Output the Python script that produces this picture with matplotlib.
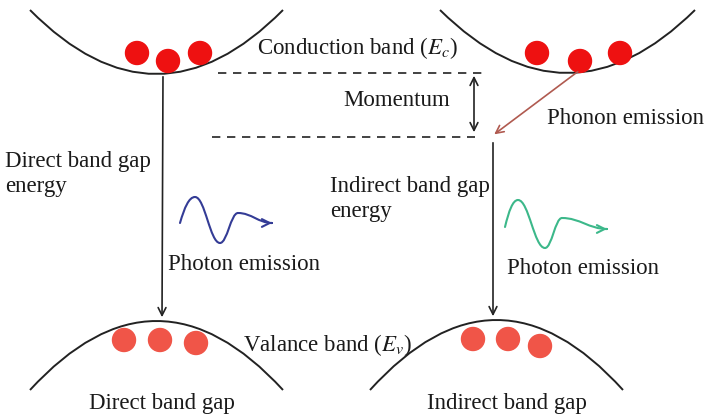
import matplotlib.pyplot as plt
from matplotlib.path import Path
from matplotlib.patches import PathPatch, Circle

plt.rcParams['font.family'] = ['Liberation Serif', 'DejaVu Serif']
plt.rcParams['mathtext.fontset'] = 'stix'

# band curves: (x_left, x_right, y_ends, y_vertex) in image pixels
conduction_bands = [(30, 283, 10, 74), (440, 695, 10, 73)]
valence_bands = [(30, 283, 390, 321), (370, 623, 390, 320)]

# electrons / holes
cb_electrons = [(137, 53), (168, 61), (200, 53), (537, 53), (580, 61), (620, 53)]
vb_electrons = [(124, 340), (160, 340), (196, 343), (473, 339), (508, 339), (540, 346)]

# photon waves: start, extremes, end
blue_wave = [(180, 223), (195, 197), (220, 243), (238, 213), (272, 223)]
green_wave = [(505, 227), (518, 200), (545, 248), (562, 218), (607, 229)]

fig = plt.figure(figsize=(7.05, 4.17), dpi=100)
ax = fig.add_axes([0, 0, 1, 1])
ax.set_xlim(0, 705)
ax.set_ylim(417, 0)
ax.axis('off')


def band(x0, x1, yend, yv):
    xc = (x0 + x1) / 2
    yc = 2 * yv - yend
    p = Path([(x0, yend), (xc, yc), (x1, yend)], [Path.MOVETO, Path.CURVE3, Path.CURVE3])
    ax.add_patch(PathPatch(p, fill=False, lw=1.4, color='#222222'))


def wave(pts, color):
    verts = [pts[0]]
    codes = [Path.MOVETO]
    for i in range(len(pts) - 1):
        (x0, y0), (x1, y1) = pts[i], pts[i + 1]
        dx = x1 - x0
        if i == 0:
            c1 = (x0 + 0.3 * dx, y0 + 0.6 * (y1 - y0))
        else:
            c1 = (x0 + 0.4 * dx, y0)
        c2 = (x1 - 0.4 * dx, y1)
        verts += [c1, c2, (x1, y1)]
        codes += [Path.CURVE4] * 3
    ax.add_patch(PathPatch(Path(verts, codes), fill=False, lw=1.5, color=color,
                           capstyle='round'))
    end = pts[-1]
    ax.annotate('', xy=end, xytext=(end[0] - 3, end[1]),
                arrowprops=dict(arrowstyle='->', color=color, lw=1.5, mutation_scale=14))


for b in conduction_bands:
    band(*b)
for b in valence_bands:
    band(*b)

for x, y in cb_electrons:
    ax.add_patch(Circle((x, y), 11.5, color='#ee1111', zorder=3))
for x, y in vb_electrons:
    ax.add_patch(Circle((x, y), 11.5, color='#f05548', zorder=3))

arrow_kw = dict(arrowstyle='->', color='#222222', lw=1.2, mutation_scale=14)
# direct transition
ax.annotate('', xy=(162, 320), xytext=(163, 74), arrowprops=arrow_kw)
# indirect transition
ax.annotate('', xy=(493, 319), xytext=(493, 140), arrowprops=arrow_kw)
# phonon emission
ax.annotate('', xy=(492, 136), xytext=(580, 70),
            arrowprops=dict(arrowstyle='->', color='#b05a50', lw=1.2, mutation_scale=14))
# momentum
ax.annotate('', xy=(474, 73), xytext=(474, 135),
            arrowprops=dict(arrowstyle='<->', color='#222222', lw=1.2, mutation_scale=14))

ax.plot([218, 488], [73, 73], ls=(0, (5, 4)), color='#222222', lw=1.2)
ax.plot([212, 475], [137, 137], ls=(0, (5, 4)), color='#222222', lw=1.2)

wave(blue_wave, '#343c96')
wave(green_wave, '#3cb88a')

fs = 16.5
tc = '#1a1a1a'
ax.text(257, 48, 'Conduction band ($E_c$)', fontsize=fs, color=tc, va='center')
ax.text(343, 100, 'Momentum', fontsize=fs, color=tc, va='center')
ax.text(547, 118, 'Phonon emission', fontsize=fs, color=tc, va='center')
ax.text(5, 174, 'Direct band gap\nenergy', fontsize=fs, color=tc, va='center',
        linespacing=1.22)
ax.text(330, 199, 'Indirect band gap\nenergy', fontsize=fs, color=tc, va='center',
        linespacing=1.22)
ax.text(168, 265, 'Photon emission', fontsize=fs, color=tc, va='center')
ax.text(507, 268, 'Photon emission', fontsize=fs, color=tc, va='center')
ax.text(243, 345, 'Valance band ($E_v$)', fontsize=fs, color=tc, va='center')
ax.text(162, 403, 'Direct band gap', fontsize=fs, color=tc, va='center', ha='center')
ax.text(507, 403, 'Indirect band gap', fontsize=fs, color=tc, va='center', ha='center')

fig.savefig('out.png', dpi=100)
